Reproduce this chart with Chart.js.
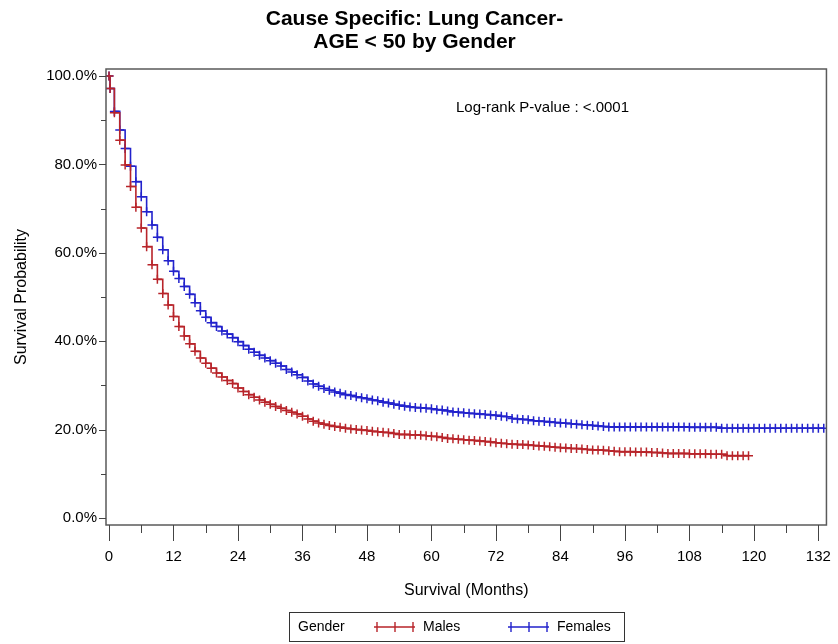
<!DOCTYPE html>
<html>
<head>
<meta charset="utf-8">
<title>Cause Specific: Lung Cancer - AGE &lt; 50 by Gender</title>
<script src="https://cdn.jsdelivr.net/npm/chart.js@4.4.1/dist/chart.umd.min.js"></script>
<style>
  html, body { margin: 0; padding: 0; background: #fff; }
  #wrap { width: 838px; height: 644px; position: relative; }
</style>
</head>
<body>
<div id="wrap"><canvas id="kmChart"></canvas></div>
<script>
  /////////////////////////////////////
 /*              DATA               */
/////////////////////////////////////

// follow-up time in months (first drop happens right after 0)
var months = [0, 0.2, 1, 2, 3, 4, 5, 6, 7, 8, 9,
  10, 11, 12, 13, 14, 15, 16, 17, 18, 19,
  20, 21, 22, 23, 24, 25, 26, 27, 28, 29,
  30, 31, 32, 33, 34, 35, 36, 37, 38, 39,
  40, 41, 42, 43, 44, 45, 46, 47, 48, 49,
  50, 51, 52, 53, 54, 55, 56, 57, 58, 59,
  60, 61, 62, 63, 64, 65, 66, 67, 68, 69,
  70, 71, 72, 73, 74, 75, 76, 77, 78, 79,
  80, 81, 82, 83, 84, 85, 86, 87, 88, 89,
  90, 91, 92, 93, 94, 95, 96, 97, 98, 99,
  100, 101, 102, 103, 104, 105, 106, 107, 108, 109,
  110, 111, 112, 113, 114, 115, 116, 117, 118, 119,
  120, 121, 122, 123, 124, 125, 126, 127, 128, 129,
  130, 131, 132, 133];

// survival probability (%) - males, up to 119 months
var males = [100, 97.2, 91.7, 85.5, 79.9, 75.0, 70.3, 65.6, 61.4, 57.3, 54.0,
  50.8, 48.2, 45.6, 43.3, 41.2, 39.4, 37.7, 36.2, 35.0, 33.9,
  32.8, 31.9, 31.1, 30.4, 29.4, 28.6, 27.9, 27.3, 26.7, 26.2,
  25.7, 25.2, 24.8, 24.3, 23.9, 23.5, 23.0, 22.4, 21.9, 21.5,
  21.2, 20.9, 20.7, 20.5, 20.3, 20.1, 20.0, 19.9, 19.8, 19.6,
  19.5, 19.4, 19.3, 19.1, 18.9, 18.9, 18.8, 18.8, 18.7, 18.6,
  18.5, 18.4, 18.2, 18.0, 17.9, 17.8, 17.7, 17.6, 17.5, 17.4,
  17.3, 17.2, 17.0, 16.9, 16.8, 16.7, 16.6, 16.6, 16.5, 16.4,
  16.3, 16.2, 16.1, 16.0, 15.9, 15.8, 15.7, 15.7, 15.6, 15.5,
  15.4, 15.4, 15.3, 15.2, 15.1, 15.0, 15.0, 15.0, 14.9, 14.9,
  14.9, 14.8, 14.8, 14.7, 14.6, 14.6, 14.6, 14.6, 14.5, 14.5,
  14.5, 14.5, 14.4, 14.4, 14.4, 14.1, 14.1, 14.1, 14.1, 14.1];

// survival probability (%) - females, up to 133 months
var females = [100, 97.2, 92.0, 87.8, 83.6, 79.6, 76.1, 72.7, 69.3, 66.3, 63.5,
  60.7, 58.2, 55.8, 54.2, 52.4, 50.6, 48.7, 46.9, 45.4, 44.2,
  43.3, 42.3, 41.6, 40.8, 39.9, 39.0, 38.2, 37.5, 36.8, 36.2,
  35.6, 35.0, 34.4, 33.6, 33.0, 32.4, 31.8, 31.0, 30.3, 29.8,
  29.3, 28.9, 28.5, 28.2, 27.9, 27.7, 27.4, 27.2, 27.0, 26.7,
  26.5, 26.2, 26.0, 25.7, 25.5, 25.3, 25.1, 25.0, 24.9, 24.8,
  24.7, 24.5, 24.4, 24.2, 24.0, 23.9, 23.8, 23.7, 23.6, 23.5,
  23.4, 23.3, 23.2, 23.0, 22.9, 22.5, 22.4, 22.3, 22.2, 22.0,
  21.9, 21.8, 21.7, 21.6, 21.5, 21.4, 21.3, 21.2, 21.1, 21.0,
  20.9, 20.8, 20.7, 20.6, 20.6, 20.6, 20.6, 20.6, 20.6, 20.6,
  20.6, 20.6, 20.6, 20.6, 20.6, 20.6, 20.6, 20.6, 20.5, 20.5,
  20.5, 20.5, 20.5, 20.5, 20.3, 20.3, 20.3, 20.3, 20.3, 20.3,
  20.3, 20.3, 20.3, 20.3, 20.3, 20.3, 20.3, 20.3, 20.3, 20.3,
  20.3, 20.3, 20.3, 20.3];

var xTicks = [0, 12, 24, 36, 48, 60, 72, 84, 96, 108, 120, 132];
var xMinor = [6, 18, 30, 42, 54, 66, 78, 90, 102, 114, 126];
var yTicks = [0, 20, 40, 60, 80, 100];
var yMinor = [10, 30, 50, 70, 90];

var pValueText = "Log-rank P-value : <.0001";
var legendTitle = "Gender";

var RED = "#b8242a";
var BLUE = "#2222cc";
var FONT = "'Liberation Sans', Arial, sans-serif";

function toPoints(times, values) {
  var pts = [];
  for (var i = 0; i < values.length; i++) {
    pts.push({ x: times[i], y: values[i] });
  }
  return pts;
}

  /////////////////////////////////////
 /*   FRAME, TICKS, NOTE, LEGEND    */
/////////////////////////////////////

var kmDecor = {
  id: "kmDecor",
  afterDraw: function(chart) {
    var ctx = chart.ctx;
    var a = chart.chartArea;
    var x = chart.scales.x;
    var y = chart.scales.y;
    var i, p;

    ctx.save();

    // plot frame
    ctx.strokeStyle = "#5a5a5a";
    ctx.lineWidth = 1.5;
    ctx.strokeRect(a.left, a.top, a.right - a.left, a.bottom - a.top);

    // tick marks outside the frame
    ctx.strokeStyle = "#444";
    ctx.lineWidth = 1;
    ctx.beginPath();
    for (i = 0; i < xTicks.length; i++) {
      p = Math.round(x.getPixelForValue(xTicks[i])) + 0.5;
      ctx.moveTo(p, a.bottom); ctx.lineTo(p, a.bottom + 16);
    }
    for (i = 0; i < xMinor.length; i++) {
      p = Math.round(x.getPixelForValue(xMinor[i])) + 0.5;
      ctx.moveTo(p, a.bottom); ctx.lineTo(p, a.bottom + 8);
    }
    for (i = 0; i < yTicks.length; i++) {
      p = Math.round(y.getPixelForValue(yTicks[i])) + 0.5;
      ctx.moveTo(a.left, p); ctx.lineTo(a.left - 7, p);
    }
    for (i = 0; i < yMinor.length; i++) {
      p = Math.round(y.getPixelForValue(yMinor[i])) + 0.5;
      ctx.moveTo(a.left, p); ctx.lineTo(a.left - 5, p);
    }
    ctx.stroke();

    // log-rank note
    ctx.fillStyle = "#000";
    ctx.font = "15px " + FONT;
    ctx.textBaseline = "middle";
    ctx.textAlign = "left";
    ctx.fillText(pValueText, 456, 108);

    // legend box: "Gender  +-+-+ Males   +-+-+ Females"
    var top = 612.5, h = 29, left = 289.5, w = 335;
    ctx.strokeStyle = "#333";
    ctx.lineWidth = 1;
    ctx.strokeRect(left, top, w, h);
    var cy = top + 14.5;
    ctx.font = "14px " + FONT;
    ctx.fillText(legendTitle, 298, cy);

    var starts = [374, 508];
    chart.data.datasets.forEach(function(ds, k) {
      var sx = starts[k];
      ctx.strokeStyle = ds.borderColor;
      ctx.lineWidth = 1.4;
      ctx.beginPath();
      ctx.moveTo(sx, cy); ctx.lineTo(sx + 41, cy);
      [3, 21, 39].forEach(function(off) {
        ctx.moveTo(sx + off, cy - 5); ctx.lineTo(sx + off, cy + 5);
      });
      ctx.stroke();
      ctx.fillStyle = "#000";
      ctx.fillText(ds.label, sx + 49, cy);
    });

    ctx.restore();
  }
};

  /////////////////////////////////////
 /*          KAPLAN-MEIER           */
/////////////////////////////////////

var ctx = document.getElementById("kmChart").getContext("2d");
var chart = new Chart(ctx, {
  type: "line",
  data: {
    datasets: [{
      label: "Males",
      data: toPoints(months, males),
      borderColor: RED,
      backgroundColor: RED,
      borderWidth: 1.6,
      stepped: "before",
      pointStyle: "cross",
      pointRadius: 4.5,
      pointBorderWidth: 1.5,
      pointBorderColor: RED,
      fill: false
    }, {
      label: "Females",
      data: toPoints(months, females),
      borderColor: BLUE,
      backgroundColor: BLUE,
      borderWidth: 1.6,
      stepped: "before",
      pointStyle: "cross",
      pointRadius: 4.5,
      pointBorderWidth: 1.5,
      pointBorderColor: BLUE,
      fill: false
    }]
  },
  options: {
    responsive: true,
    maintainAspectRatio: false,
    animation: false,
    events: [],
    layout: { padding: { left: 0, right: 9, top: 0, bottom: 44 } },
    plugins: {
      legend: { display: false },
      tooltip: { enabled: false },
      title: {
        display: true,
        text: ["Cause Specific: Lung Cancer-", "AGE < 50 by Gender"],
        color: "#000",
        font: { family: FONT, size: 21, weight: "bold", lineHeight: "23px" },
        padding: { top: 8, bottom: 15 }
      }
    },
    scales: {
      x: {
        type: "linear",
        min: -0.56,
        max: 133.5,
        afterBuildTicks: function(s) {
          s.ticks = xTicks.map(function(v) { return { value: v }; });
        },
        afterFit: function(s) { s.height = 75; },
        border: { display: false },
        grid: { drawOnChartArea: false, drawTicks: true, tickLength: 16, tickColor: "rgba(0,0,0,0)" },
        ticks: {
          autoSkip: false, maxRotation: 0, padding: 7, color: "#000",
          font: { family: FONT, size: 15 },
          callback: function(v) { return v; }
        },
        title: {
          display: true, text: "Survival (Months)", color: "#000",
          font: { family: FONT, size: 16 },
          padding: { top: 0, bottom: 0 }
        }
      },
      y: {
        type: "linear",
        min: -1.6,
        max: 101.6,
        afterBuildTicks: function(s) {
          s.ticks = yTicks.map(function(v) { return { value: v }; });
        },
        afterFit: function(s) { s.width = 106; },
        border: { display: false },
        grid: { drawOnChartArea: false, drawTicks: true, tickLength: 7, tickColor: "rgba(0,0,0,0)" },
        ticks: {
          padding: 2, color: "#000",
          font: { family: FONT, size: 15 },
          callback: function(v) { return v.toFixed(1) + "%"; }
        },
        title: {
          display: true, text: "Survival Probability", color: "#000",
          font: { family: FONT, size: 16 },
          padding: { top: 12, bottom: 0 }
        }
      }
    }
  },
  plugins: [kmDecor]
});
</script>
</body>
</html>
